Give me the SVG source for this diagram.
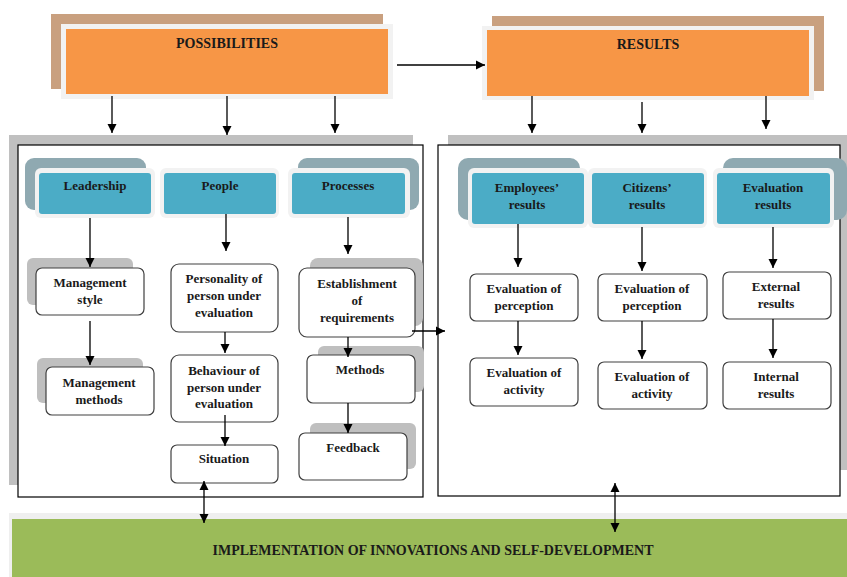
<svg xmlns="http://www.w3.org/2000/svg" width="847" height="577" viewBox="0 0 847 577">
<defs>
<style>
text{font-family:"Liberation Serif","Times New Roman",serif;font-weight:bold;font-size:13px;fill:#1a1a1a;text-anchor:middle}
.title{font-size:14px}
.back{fill:#C9A07F}
.halo{fill:#F2F2F2}
.orange{fill:#F79646}
.hback{fill:#8FA9B1}
.teal{fill:#4BACC6}
.shadow{fill:#BFBFBF}
.box{fill:#fff;stroke:#404040;stroke-width:1.2}
.panel{fill:#fff;stroke:#000;stroke-width:1.2}
.gray{fill:#C0C0C0}
.conn{stroke:#000;stroke-width:1.3;fill:none}
</style>
<marker id="ah" markerWidth="10" markerHeight="10" refX="9" refY="5" orient="auto" markerUnits="userSpaceOnUse">
<path d="M0,0.5 L9,5 L0,9.5 Z" fill="#000"/>
</marker>
<marker id="as" markerWidth="10" markerHeight="10" refX="1" refY="5" orient="auto" markerUnits="userSpaceOnUse">
<path d="M10,0.5 L1,5 L10,9.5 Z" fill="#000"/>
</marker>
</defs>
<rect width="847" height="577" fill="#fff"/>

<!-- panels -->
<g id="panel-left">
<rect class="gray" x="9" y="135" width="404" height="350"/>
<rect class="panel" x="18" y="145" width="405" height="352"/>
</g>
<g id="panel-right">
<rect class="gray" x="448" y="135" width="399" height="335"/>
<rect class="panel" x="438" y="145" width="402" height="351"/>
</g>

<g id="possibilities">
<rect class="back" x="51" y="14" width="332" height="75"/>
<rect class="halo" x="61" y="24" width="332" height="75"/>
<rect class="orange" x="66" y="29" width="322" height="65"/>
<text class="title" x="227" y="48">POSSIBILITIES</text>
</g>
<g id="results">
<rect class="back" x="492" y="16" width="332" height="75"/>
<rect class="halo" x="482" y="26" width="332" height="74"/>
<rect class="orange" x="487" y="30" width="322" height="66"/>
<text class="title" x="648" y="49">RESULTS</text>
</g>

<g id="leadership">
<rect class="hback" x="25" y="158" width="121" height="52" rx="9"/>
<rect class="halo" x="35" y="168" width="120" height="50" rx="6"/>
<rect class="teal" x="39" y="173" width="112" height="41" rx="3"/>
<text x="95" y="190">Leadership</text>
</g>
<g id="people">
<rect class="halo" x="160" y="168" width="119" height="50" rx="6"/>
<rect class="teal" x="164" y="173" width="112" height="41" rx="3"/>
<text x="220" y="190">People</text>
</g>
<g id="processes">
<rect class="hback" x="298" y="158" width="121" height="52" rx="9"/>
<rect class="halo" x="288" y="168" width="122" height="50" rx="6"/>
<rect class="teal" x="292" y="173" width="113" height="41" rx="3"/>
<text x="348" y="190">Processes</text>
</g>

<g id="management-style">
<rect class="shadow" x="27" y="258" width="106" height="47" rx="6"/>
<rect class="box" x="36" y="268" width="108" height="47" rx="6"/>
<text x="90" y="287">Management</text>
<text x="90" y="304">style</text>
</g>
<g id="management-methods">
<rect class="shadow" x="37" y="358" width="106" height="45" rx="6"/>
<rect class="box" x="46" y="367" width="108" height="48" rx="6"/>
<text x="99" y="387">Management</text>
<text x="99" y="404">methods</text>
</g>
<g id="personality">
<rect class="box" x="171" y="264" width="107" height="68" rx="8"/>
<text x="224" y="283">Personality of</text>
<text x="224" y="300">person under</text>
<text x="224" y="317">evaluation</text>
</g>
<g id="behaviour">
<rect class="box" x="171" y="355" width="107" height="67" rx="8"/>
<text x="224" y="375">Behaviour of</text>
<text x="224" y="392">person under</text>
<text x="224" y="408">evaluation</text>
</g>
<g id="situation">
<rect class="box" x="171" y="445" width="107" height="38" rx="6"/>
<text x="224" y="463">Situation</text>
</g>
<g id="establishment">
<rect class="shadow" x="310" y="258" width="113" height="68" rx="8"/>
<rect class="box" x="299" y="268" width="116" height="69" rx="8"/>
<text x="357" y="288">Establishment</text>
<text x="357" y="305">of</text>
<text x="357" y="322">requirements</text>
</g>
<g id="methods">
<rect class="shadow" x="318" y="346" width="106" height="46" rx="6"/>
<rect class="box" x="307" y="355" width="108" height="48" rx="6"/>
<text x="360" y="374">Methods</text>
</g>
<g id="feedback">
<rect class="shadow" x="310" y="423" width="106" height="46" rx="6"/>
<rect class="box" x="299" y="433" width="108" height="47" rx="6"/>
<text x="353" y="452">Feedback</text>
</g>

<g id="employees-results">
<rect class="hback" x="458" y="158" width="122" height="62" rx="10"/>
<rect class="halo" x="468" y="168" width="120" height="60" rx="6"/>
<rect class="teal" x="472" y="173" width="112" height="51" rx="3"/>
<text x="527" y="192">Employees’</text>
<text x="527" y="209">results</text>
</g>
<g id="citizens-results">
<rect class="halo" x="588" y="168" width="119" height="60" rx="6"/>
<rect class="teal" x="592" y="173" width="112" height="51" rx="3"/>
<text x="647" y="192">Citizens’</text>
<text x="647" y="209">results</text>
</g>
<g id="evaluation-results">
<rect class="hback" x="723" y="158" width="124" height="62" rx="10"/>
<rect class="halo" x="713" y="168" width="121" height="60" rx="6"/>
<rect class="teal" x="717" y="173" width="113" height="51" rx="3"/>
<text x="773" y="192">Evaluation</text>
<text x="773" y="209">results</text>
</g>

<g id="eval-perception-1">
<rect class="box" x="470" y="274" width="108" height="47" rx="6"/>
<text x="524" y="293">Evaluation of</text>
<text x="524" y="310">perception</text>
</g>
<g id="eval-perception-2">
<rect class="box" x="598" y="274" width="109" height="47" rx="6"/>
<text x="652" y="293">Evaluation of</text>
<text x="652" y="310">perception</text>
</g>
<g id="external-results">
<rect class="box" x="723" y="272" width="108" height="47" rx="6"/>
<text x="776" y="291">External</text>
<text x="776" y="308">results</text>
</g>
<g id="eval-activity-1">
<rect class="box" x="470" y="358" width="108" height="48" rx="6"/>
<text x="524" y="377">Evaluation of</text>
<text x="524" y="394">activity</text>
</g>
<g id="eval-activity-2">
<rect class="box" x="598" y="362" width="109" height="47" rx="6"/>
<text x="652" y="381">Evaluation of</text>
<text x="652" y="398">activity</text>
</g>
<g id="internal-results">
<rect class="box" x="723" y="362" width="108" height="47" rx="6"/>
<text x="776" y="381">Internal</text>
<text x="776" y="398">results</text>
</g>

<g id="implementation">
<rect x="9" y="513" width="838" height="64" fill="#EFEFEF"/>
<rect x="12" y="519" width="835" height="58" fill="#9BBB59"/>
<text class="title" x="433" y="555">IMPLEMENTATION OF INNOVATIONS AND SELF-DEVELOPMENT</text>
</g>

<g id="connectors" class="conn">
<line x1="397" y1="65" x2="485" y2="65" marker-end="url(#ah)"/>
<line x1="112" y1="96" x2="112" y2="133" marker-end="url(#ah)"/>
<line x1="227" y1="96" x2="227" y2="135" marker-end="url(#ah)"/>
<line x1="335" y1="96" x2="335" y2="133" marker-end="url(#ah)"/>
<line x1="532" y1="96" x2="532" y2="133" marker-end="url(#ah)"/>
<line x1="642" y1="102" x2="642" y2="133" marker-end="url(#ah)"/>
<line x1="766" y1="96" x2="766" y2="129" marker-end="url(#ah)"/>
<line x1="90" y1="218" x2="90" y2="267" marker-end="url(#ah)"/>
<line x1="226" y1="214" x2="226" y2="251" marker-end="url(#ah)"/>
<line x1="348" y1="217" x2="348" y2="254" marker-end="url(#ah)"/>
<line x1="90" y1="321" x2="90" y2="365" marker-end="url(#ah)"/>
<line x1="225" y1="332" x2="225" y2="353" marker-end="url(#ah)"/>
<line x1="225" y1="415" x2="225" y2="446" marker-end="url(#ah)"/>
<line x1="348" y1="337" x2="348" y2="357" marker-end="url(#ah)"/>
<line x1="348" y1="403" x2="348" y2="433" marker-end="url(#ah)"/>
<line x1="412" y1="331" x2="445" y2="331" marker-end="url(#ah)"/>
<line x1="518" y1="224" x2="518" y2="267" marker-end="url(#ah)"/>
<line x1="642" y1="227" x2="642" y2="271" marker-end="url(#ah)"/>
<line x1="773" y1="227" x2="773" y2="268" marker-end="url(#ah)"/>
<line x1="518" y1="321" x2="518" y2="355" marker-end="url(#ah)"/>
<line x1="642" y1="321" x2="642" y2="359" marker-end="url(#ah)"/>
<line x1="773" y1="319" x2="773" y2="358" marker-end="url(#ah)"/>
<line x1="204" y1="481" x2="204" y2="523" marker-start="url(#as)" marker-end="url(#ah)"/>
<line x1="615" y1="483" x2="615" y2="532" marker-start="url(#as)" marker-end="url(#ah)"/>
</g>
</svg>
